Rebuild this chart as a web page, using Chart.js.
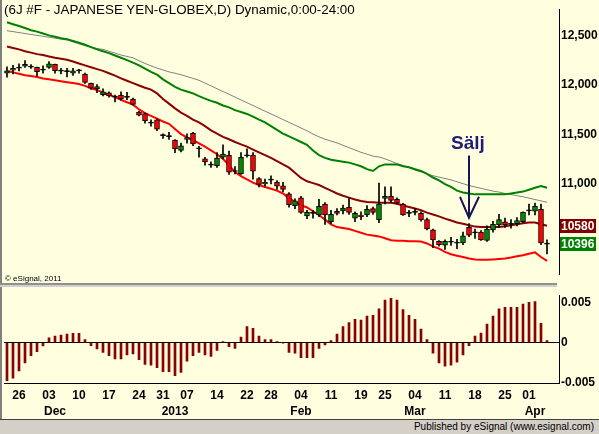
<!DOCTYPE html>
<html>
<head>
<meta charset="utf-8">
<script src="https://cdn.jsdelivr.net/npm/chart.js@4.4.0/dist/chart.umd.min.js"></script>
<style>
  html, body { margin: 0; padding: 0; background: #ffffe0; }
  #wrap { position: relative; width: 599px; height: 434px; overflow: hidden; background: #ffffe0;
          font-family: "Liberation Sans", Arial, sans-serif; }
  canvas { position: absolute; left: 0; }
  #price { top: 0; }
  #osc { top: 286px; }
  #title { position: absolute; left: 4px; top: 2px; font-size: 13.4px; color: #000; white-space: nowrap; }
  #copy { position: absolute; left: 5px; top: 274px; font-size: 8px; color: #000; }
  #sep { position: absolute; left: 0; top: 283px; width: 557px; height: 2px; border-top: 2px solid #909090; background: #d0d0d0; }
  #edge { position: absolute; left: 0; top: 0; width: 2px; height: 420px; background: #808080; }
  #footer { position: absolute; left: 0; top: 419px; width: 599px; height: 14px; background: #d4d0c8;
            border-top: 1px solid #404040; font-size: 10px; text-align: right; line-height: 14px; }
  #footer span { padding-right: 5px; }
</style>
</head>
<body>
<div id="wrap">
  <canvas id="price" width="599" height="284"></canvas>
  <canvas id="osc" width="599" height="134"></canvas>
  <div id="edge"></div>
  <div id="sep"></div>
  <div id="title">(6J #F - JAPANESE YEN-GLOBEX,D) Dynamic,0:00-24:00</div>
  <div id="copy">&copy; eSignal, 2011</div>
  <div id="footer"><span>Published by eSignal (www.esignal.com)</span></div>
</div>
<script>
// daily candles, 21 Nov 2012 .. 4 Apr 2013 (one entry per session)
const opens = [12120,12148,12173,12189,12182,12177,12151,12177,12208,12142,
  12137,12120,12144,12111,12016,11960,11903,11922,11880,11899,
  11877,11859,11727,11711,11618,11648,11491,11482,11444,11340,
  11450,11513,11359,11255,11194,11186,11271,11293,11130,11104,
  11288,11293,11057,11003,11042,11019,10982,10903,10784,10862,
  10680,10707,10689,10800,10621,10727,10730,10768,10658,10689,
  10689,10753,10642,10856,10878,10847,10800,10707,10717,10705,
  10642,10539,10423,10385,10416,10407,10407,10564,10510,10517,
  10432,10539,10589,10621,10597,10602,10621,10732,10727,10746,
  10398];
const highs = [12182,12198,12214,12245,12205,12180,12192,12236,12210,12167,
  12167,12167,12158,12120,12018,12003,11962,11931,11899,11931,
  11925,11868,11736,11720,11648,11658,11507,11522,11450,11413,
  11507,11522,11381,11271,11224,11318,11397,11333,11177,11318,
  11356,11318,11067,11051,11083,11035,11019,10916,10853,10878,
  10737,10737,10847,10815,10737,10753,10790,10862,10721,10721,
  10784,10768,11010,10972,10972,10862,10806,10737,10753,10721,
  10658,10548,10432,10438,10463,10444,10517,10602,10548,10532,
  10579,10626,10696,10658,10642,10664,10721,10800,10809,10800,
  10438];
const lows = [12078,12111,12142,12177,12167,12088,12120,12167,12120,12111,
  12082,12097,12120,12016,11956,11922,11890,11878,11830,11846,
  11852,11796,11689,11616,11585,11538,11460,11450,11318,11324,
  11413,11387,11271,11192,11168,11168,11255,11098,11104,11098,
  11271,11051,10972,10979,11003,10947,10925,10768,10753,10705,
  10652,10658,10673,10595,10602,10689,10699,10696,10621,10642,
  10673,10696,10611,10800,10815,10800,10685,10673,10689,10626,
  10539,10359,10375,10343,10381,10350,10391,10470,10454,10432,
  10423,10517,10564,10564,10557,10579,10611,10689,10689,10391,
  10296];
const closes = [12142,12167,12170,12208,12180,12135,12149,12214,12144,12140,
  12135,12142,12142,12026,11969,11984,11931,11890,11878,11859,
  11875,11805,11696,11639,11616,11554,11489,11480,11356,11387,
  11469,11406,11357,11224,11192,11262,11302,11120,11128,11271,
  11286,11130,10998,11019,11040,10979,10947,10790,10831,10715,
  10715,10705,10777,10689,10696,10705,10758,10715,10705,10671,
  10746,10715,10800,10878,10837,10809,10689,10705,10715,10642,
  10548,10438,10391,10423,10414,10405,10479,10485,10508,10438,
  10548,10595,10642,10589,10595,10633,10715,10730,10777,10407,
  10396];

// study lines
const greenBand = [12632,12613,12594,12575,12552,12538,12519,12500,12486,12472,
  12462,12443,12425,12406,12382,12359,12340,12321,12297,12274,
  12250,12226,12198,12165,12132,12104,12057,12019,11981,11953,
  11934,11915,11887,11863,11840,11821,11793,11774,11746,11727,
  11708,11680,11651,11623,11585,11548,11510,11482,11453,11425,
  11397,11340,11293,11265,11246,11236,11227,11217,11199,11180,
  11151,11133,11180,11199,11199,11199,11180,11170,11151,11133,
  11104,11067,11038,11001,10972,10935,10916,10906,10897,10897,
  10897,10897,10897,10897,10906,10916,10925,10944,10963,10982,
  10963];
const grayLine = [12547,12538,12528,12519,12509,12500,12491,12481,12472,12462,
  12453,12434,12415,12396,12382,12368,12359,12340,12321,12302,
  12288,12274,12245,12217,12193,12170,12151,12132,12118,12104,
  12085,12066,12047,12019,11991,11962,11934,11906,11878,11849,
  11821,11793,11764,11736,11708,11680,11651,11623,11595,11566,
  11538,11505,11477,11453,11434,11416,11392,11368,11345,11321,
  11302,11283,11274,11255,11232,11208,11189,11166,11142,11123,
  11104,11085,11071,11057,11043,11024,11005,10986,10972,10958,
  10944,10930,10920,10906,10897,10883,10873,10859,10845,10831,
  10817];
const midLine = [12387,12373,12359,12340,12326,12311,12302,12288,12274,12264,
  12255,12236,12217,12198,12179,12160,12142,12118,12094,12066,
  12043,12019,11995,11972,11953,11915,11859,11812,11764,11722,
  11689,11651,11623,11585,11543,11510,11477,11453,11425,11401,
  11378,11349,11321,11293,11265,11232,11199,11166,11114,11062,
  11029,11010,10991,10963,10935,10906,10883,10864,10845,10831,
  10821,10817,10812,10812,10812,10803,10784,10770,10755,10737,
  10713,10694,10675,10652,10633,10614,10600,10586,10572,10567,
  10567,10567,10567,10576,10586,10595,10605,10614,10614,10595,
  10580];
const lowerBand = [12142,12127,12113,12099,12090,12080,12066,12057,12047,12038,
  12028,12019,12010,11991,11967,11948,11925,11901,11878,11849,
  11826,11802,11755,11717,11689,11661,11632,11609,11557,11505,
  11472,11444,11411,11378,11340,11302,11255,11189,11123,11081,
  11048,11015,10991,10972,10953,10935,10906,10859,10821,10788,
  10765,10727,10689,10642,10595,10567,10557,10548,10529,10510,
  10491,10482,10473,10454,10435,10430,10430,10425,10425,10421,
  10402,10373,10350,10317,10293,10279,10265,10251,10241,10237,
  10237,10241,10246,10251,10260,10274,10284,10298,10312,10265,
  10227];

// lower panel oscillator
const oscillator = [-0.0047,-0.0044,-0.0035,-0.0025,-0.0016,-0.0011,-0.0004,0.0006,0.00083,0.00095,
  0.00106,0.00118,0.00118,0.00038,-0.00038,-0.00076,-0.0012,-0.0016,-0.002,-0.002,
  -0.0015,-0.0014,-0.0021,-0.0027,-0.0028,-0.0031,-0.0036,-0.0036,-0.0041,-0.0037,
  -0.0023,-0.0016,-0.0012,-0.0015,-0.0017,-0.00095,0.00015,-0.0005,-0.0007,0.0007,
  0.002,0.0018,0.00083,0.00038,0.00038,0.00015,-0.00005,-0.0012,-0.0013,-0.00186,
  -0.00186,-0.00186,-0.0007,-0.00027,0.00027,0.00106,0.002,0.0025,0.0029,0.0028,
  0.0033,0.0034,0.0042,0.0053,0.0055,0.0053,0.0041,0.0034,0.0029,0.0017,
  0.00038,-0.0013,-0.0025,-0.0029,-0.0028,-0.0024,-0.0015,-0.00038,0.00083,0.0012,
  0.0023,0.0033,0.0042,0.0044,0.0044,0.0044,0.0048,0.005,0.0051,0.0024,
  0.00027];

// axis labels
const weekTicks = [2,7,12,17,22,26,30,35,40,44,49,54,59,63,68,73,78,83,87];
const weekLabels = ['26','03','10','17','24','31','07','14','22','28','04','11','19','25','04','11','18','25','01'];
const monthTicks = [8,28,49,68,88];
const monthLabels = ['Dec','2013','Feb','Mar','Apr'];
const priceTicks = [11000,11500,12000,12500];
const oscTicks = [-0.005,0,0.005];

// sell signal annotation
const signal = { index: 77, label: 'Sälj', textAt: 11350, from: 11290, to: 10661 };

const FONT = '"Liberation Sans", Arial, sans-serif';
Chart.defaults.font.family = FONT;
Chart.defaults.color = '#000';

const idx = closes.map((_, i) => i);
const bodyColor = idx.map(i => {
  if (Math.abs(opens[i] - closes[i]) <= 4) return '#000';
  return closes[i] > opens[i] ? '#008a00' : '#ff0000';
});
const line = (arr, color, w) => ({
  type: 'line', data: idx.map(i => ({ x: i, y: arr[i] })),
  borderColor: color, borderWidth: w, pointRadius: 0, tension: 0, order: 5
});

const priceExtras = {
  id: 'priceExtras',
  afterDraw(chart) {
    const { ctx, chartArea, scales: { x, y } } = chart;
    // Sälj arrow
    const px = x.getPixelForValue(signal.index);
    const yTop = y.getPixelForValue(signal.from);
    const yTip = y.getPixelForValue(signal.to);
    ctx.save();
    ctx.strokeStyle = '#14145a';
    ctx.lineWidth = 2;
    ctx.beginPath();
    ctx.moveTo(px, yTop); ctx.lineTo(px, yTip);
    ctx.moveTo(px - 9, yTip - 21); ctx.lineTo(px, yTip); ctx.lineTo(px + 10, yTip - 21);
    ctx.stroke();
    ctx.fillStyle = '#1e1e78';
    ctx.font = 'bold 19px ' + FONT;
    ctx.textAlign = 'center';
    ctx.textBaseline = 'alphabetic';
    ctx.fillText(signal.label, px - 1, y.getPixelForValue(signal.textAt));
    // last value flags
    const flags = [[midLine[midLine.length - 1], '#800000'], [closes[closes.length - 1], '#008000']];
    ctx.font = 'bold 12px ' + FONT;
    ctx.textAlign = 'left';
    ctx.textBaseline = 'middle';
    flags.forEach(([v, c]) => {
      const py = Math.round(y.getPixelForValue(v));
      ctx.fillStyle = c;
      ctx.fillRect(chartArea.right + 1, py - 7, 36, 14);
      ctx.fillStyle = '#fff';
      ctx.fillText(String(v), chartArea.right + 2, py + 1);
    });
    ctx.restore();
  }
};

new Chart(document.getElementById('price'), {
  type: 'bar',
  data: {
    datasets: [
      line(greenBand, '#008000', 2),
      line(grayLine, '#808080', 1),
      line(midLine, '#8b0000', 2),
      line(lowerBand, '#ff0000', 2),
      { data: idx.map(i => ({ x: i, y: [lows[i], highs[i]] })), backgroundColor: '#000',
        barThickness: 1, grouped: false, order: 3 },
      { data: idx.map(i => ({ x: i, y: [opens[i], closes[i]] })), backgroundColor: bodyColor,
        borderColor: '#000', borderWidth: 1, borderSkipped: false, barThickness: 5,
        minBarLength: 1, grouped: false, order: 2 }
    ]
  },
  options: {
    responsive: false,
    animation: false,
    layout: { padding: { left: 4, right: 0, top: 0, bottom: 0 } },
    plugins: { legend: { display: false }, tooltip: { enabled: false } },
    scales: {
      x: { type: 'linear', min: -0.5, max: 92, offset: false, display: false },
      y: {
        position: 'right', min: 10086, max: 12764,
        afterBuildTicks: s => { s.ticks = priceTicks.map(v => ({ value: v })); },
        afterFit: s => { s.width = 40; },
        grid: { display: false, drawTicks: false },
        border: { display: true, color: '#000', width: 1 },
        ticks: { color: '#000', padding: 2, font: { size: 12, weight: 'bold' } }
      }
    }
  },
  plugins: [priceExtras]
});

new Chart(document.getElementById('osc'), {
  type: 'bar',
  data: {
    datasets: [{ data: idx.map(i => ({ x: i, y: oscillator[i] })), backgroundColor: '#8b0000', barThickness: 2 }]
  },
  options: {
    responsive: false,
    animation: false,
    layout: { padding: { left: 4, right: 0, top: 2, bottom: 0 } },
    plugins: { legend: { display: false }, tooltip: { enabled: false } },
    scales: {
      x: {
        type: 'linear', min: -0.5, max: 92, offset: false, position: 'bottom',
        afterBuildTicks: s => { s.ticks = weekTicks.map(v => ({ value: v })); },
        afterFit: s => { s.height = 19; },
        grid: { display: false, drawTicks: false },
        border: { color: '#000' },
        ticks: { callback: (v, i) => weekLabels[i], autoSkip: false, maxRotation: 0, padding: 5,
                 color: '#000', font: { size: 12, weight: 'bold' } }
      },
      xm: {
        type: 'linear', min: -0.5, max: 92, offset: false, position: 'bottom',
        afterBuildTicks: s => { s.ticks = monthTicks.map(v => ({ value: v })); },
        afterFit: s => { s.height = 18; },
        grid: { display: false, drawTicks: false },
        border: { display: false },
        ticks: { callback: (v, i) => monthLabels[i], autoSkip: false, maxRotation: 0, padding: 2,
                 color: '#000', font: { size: 12, weight: 'bold' } }
      },
      y: {
        position: 'right', min: -0.005, max: 0.0059,
        afterBuildTicks: s => { s.ticks = oscTicks.map(v => ({ value: v })); },
        afterFit: s => { s.width = 40; },
        grid: { drawTicks: false, color: c => (c.tick && c.tick.value === 0 ? '#000' : 'rgba(0,0,0,0)') },
        border: { color: '#000' },
        ticks: { callback: v => String(v), color: '#000', padding: 2, font: { size: 12, weight: 'bold' } }
      }
    }
  }
});
</script>
</body>
</html>
